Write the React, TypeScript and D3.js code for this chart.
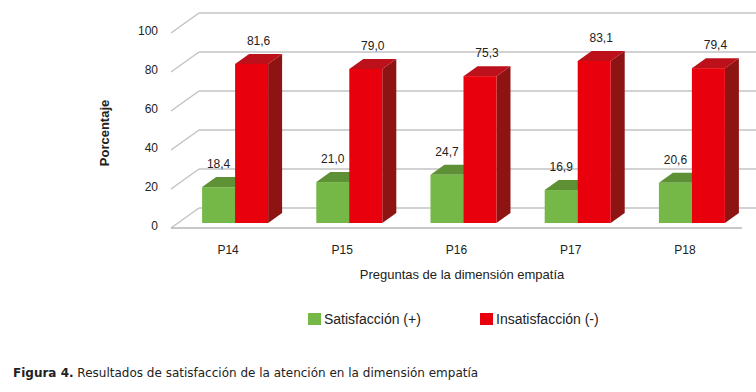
import * as d3 from "d3";
import React, { useEffect } from "react";

const categories = ["P14", "P15", "P16", "P17", "P18"];
const seriesNames = ["Satisfacción (+)", "Insatisfacción (-)"];
const satisfaccion = [18.4, 21.0, 24.7, 16.9, 20.6];
const insatisfaccion = [81.6, 79.0, 75.3, 83.1, 79.4];
const yTicks = [0, 20, 40, 60, 80, 100];

const W = 756;
const H = 392;
const DX = 28; // depth offset of the back wall
const DY = 20;

const palette = [
  { front: "#76b847", top: "#5e9136", side: "#4f7a2c", labelDx: 0 },
  { front: "#e8000d", top: "#bc101a", side: "#8e1414", labelDx: 7 },
];

const fmt = (v: number) => v.toFixed(1).replace(".", ",");
const FONT = "Liberation Sans, Arial, sans-serif";

const App: React.FC = () => {
  useEffect(() => {
    document.body.style.margin = "0";
  }, []);

  const y = d3.scaleLinear().domain([0, 100]).range([228, 33]);
  const x0 = d3.scaleBand<string>().domain(categories).range([171, 742]);
  const x1 = d3
    .scaleBand<string>()
    .domain(seriesNames)
    .range([0, x0.bandwidth()])
    .paddingOuter(0.73);

  // project a point on the front plane back by depth fraction d
  const pt = (x: number, v: number, d: number) => [x + DX * d, y(v) - DY * d];
  const poly = (pts: number[][]) => pts.map((p) => p.join(",")).join(" ");

  const d0 = 0.25;
  const d1 = 0.75;
  const values = [satisfaccion, insatisfaccion];

  return (
    <svg width={W} height={H} style={{ display: "block", background: "#fff" }}>
      {/* back wall grid + side wall diagonals */}
      {yTicks.map((t) => (
        <g key={t} stroke="#c3c3c3" strokeWidth={1.5} fill="none">
          <line x1={171 + DX} x2={W} y1={y(t) - DY} y2={y(t) - DY} />
          <line x1={171} y1={y(t)} x2={171 + DX} y2={y(t) - DY} />
        </g>
      ))}
      <line x1={171} x2={742} y1={y(0)} y2={y(0)} stroke="#b5b5b5" strokeWidth={1.5} />

      {/* y tick labels */}
      {yTicks.map((t) => (
        <text
          key={t}
          x={158}
          y={y(t) - 1}
          textAnchor="end"
          dominantBaseline="middle"
          fontFamily={FONT}
          fontSize={12}
          fill="#222"
        >
          {t}
        </text>
      ))}
      <text
        transform="translate(109,133) rotate(-90)"
        textAnchor="middle"
        fontFamily={FONT}
        fontSize={13}
        fontWeight="bold"
        fill="#222"
      >
        Porcentaje
      </text>

      {/* bars */}
      {categories.map((c, i) => (
        <g key={c}>
          {seriesNames.map((s, j) => {
            const v = values[j][i];
            const xa = (x0(c) ?? 0) + (x1(s) ?? 0);
            const xb = xa + x1.bandwidth();
            const col = palette[j];
            const [fx, fy] = pt(xa, v, d0);
            const [, by] = pt(xa, 0, d0);
            return (
              <g key={s}>
                <polygon
                  points={poly([pt(xb, 0, d0), pt(xb, v, d0), pt(xb, v, d1), pt(xb, 0, d1)])}
                  fill={col.side}
                />
                <polygon
                  points={poly([pt(xa, v, d0), pt(xb, v, d0), pt(xb, v, d1), pt(xa, v, d1)])}
                  fill={col.top}
                />
                <rect x={fx} y={fy} width={xb - xa} height={by - fy} fill={col.front} />
              </g>
            );
          })}
        </g>
      ))}

      {/* value labels */}
      {categories.map((c, i) =>
        seriesNames.map((s, j) => {
          const v = values[j][i];
          const xa = (x0(c) ?? 0) + (x1(s) ?? 0);
          const [lx] = pt(xa + x1.bandwidth() / 2, v, d0);
          return (
            <text
              key={c + s}
              x={lx + palette[j].labelDx}
              y={y(v) - 24}
              textAnchor="middle"
              fontFamily={FONT}
              fontSize={12}
              fill="#222"
            >
              {fmt(v)}
            </text>
          );
        })
      )}

      {/* category labels */}
      {categories.map((c) => (
        <text
          key={c}
          x={(x0(c) ?? 0) + x0.bandwidth() / 2}
          y={254}
          textAnchor="middle"
          fontFamily={FONT}
          fontSize={12}
          fill="#222"
        >
          {c}
        </text>
      ))}

      <text x={462} y={279} textAnchor="middle" fontFamily={FONT} fontSize={13} fill="#222">
        Preguntas de la dimensión empatía
      </text>

      {/* legend */}
      {seriesNames.map((s, j) => {
        const lx = [308, 480][j];
        return (
          <g key={s}>
            <rect x={lx} y={313} width={13} height={12} fill={palette[j].front} />
            <text x={lx + 16} y={324} fontFamily={FONT} fontSize={14} fill="#222">
              {s}
            </text>
          </g>
        );
      })}

      {/* caption */}
      <text x={13} y={377} fontFamily="DejaVu Sans, Verdana, sans-serif" fontSize={12} fill="#222">
        <tspan fontWeight="bold">Figura 4.</tspan> Resultados de satisfacción de la atención en la dimensión empatía
      </text>
    </svg>
  );
};

export default App;
